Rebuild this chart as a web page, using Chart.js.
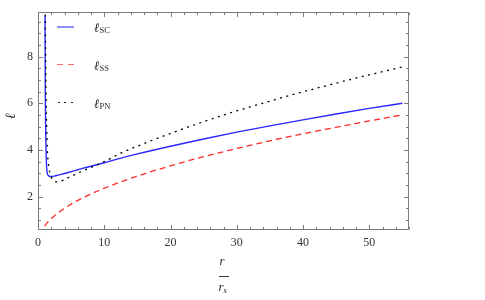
<!DOCTYPE html>
<html>
<head>
<meta charset="utf-8">
<script src="https://cdn.jsdelivr.net/npm/chart.js@4.4.1/dist/chart.umd.min.js"></script>
<style>
  html, body { margin: 0; padding: 0; background: #fff; }
  #wrap { position: relative; width: 485px; height: 300px; overflow: hidden; }
  #c { position: absolute; left: 0; top: 0; }
  .t { position: absolute; font-family: "Liberation Serif", "DejaVu Serif", serif; color: #2a2a2a; white-space: nowrap; }
  .ell { font-style: italic; font-size: 13px; line-height: 13px; }
  .sub { font-size: 8.5px; line-height: 9px; }
  .sample { position: absolute; }
</style>
</head>
<body>
<div id="wrap">
  <canvas id="c" width="485" height="300"></canvas>

  <!-- legend -->
  <div class="sample" style="left:57px; top:26px; width:17px; height:2px; background:#8f8ff8;"></div>
  <span class="t ell" style="left:94px; top:21px;">ℓ</span><span class="t sub" style="left:99.5px; top:26px;">SC</span>

  <div class="sample" style="left:57px; top:63.5px; width:17px; height:1.5px; background:repeating-linear-gradient(90deg, #ff6a6a 0 6px, transparent 6px 11px);"></div>
  <span class="t ell" style="left:94px; top:59px;">ℓ</span><span class="t sub" style="left:99.5px; top:64px;">SS</span>

  <div class="sample" style="left:58px; top:101.5px; width:17px; height:1px; background:repeating-linear-gradient(90deg, #222 0 2px, transparent 2px 6.5px);"></div>
  <span class="t ell" style="left:94px; top:96.5px;">ℓ</span><span class="t sub" style="left:99.5px; top:101.5px;">PN</span>

  <!-- y title -->
  <div class="t" style="left:1px; top:106px; width:20px; height:20px; line-height:20px; text-align:center; font-style:italic; font-size:14px; transform:rotate(-90deg);">ℓ</div>

  <!-- x title: fraction r / r_s -->
  <span class="t" style="left:219.5px; top:254px; font-style:italic; font-size:13px; line-height:13px;">r</span>
  <div style="position:absolute; left:218.5px; top:275.5px; width:10.5px; height:1px; background:#3a3a3a;"></div>
  <span class="t" style="left:218.5px; top:280px; font-style:italic; font-size:13px; line-height:13px;">r</span><span class="t" style="left:223.5px; top:285.5px; font-style:italic; font-size:8.5px; line-height:9px;">s</span>
</div>

<script>
// ---- data ----
const rSC = [1.06, 1.08, 1.10, 1.13, 1.17, 1.22, 1.28, 1.35, 1.45, 1.6, 1.8, 2.0, 2.5, 3, 4, 5, 6, 7, 8, 10, 12.5, 15, 20, 25, 30, 35, 40, 45, 50, 55];
const lSC = [9.75, 8.0, 6.8, 5.6, 4.6, 3.9, 3.4, 3.1, 2.96, 2.89, 2.86, 2.86, 2.88, 2.92, 2.99, 3.07, 3.15, 3.23, 3.30, 3.45, 3.65, 3.83, 4.16, 4.47, 4.76, 5.03, 5.29, 5.54, 5.78, 6.00];

const rSS = [1.0, 1.25, 1.5, 2, 2.5, 3, 4, 5, 7, 10, 12.5, 15, 20, 25, 30, 35, 40, 45, 50, 55];
const lSS = [0.74, 0.83, 0.92, 1.06, 1.18, 1.30, 1.50, 1.68, 1.98, 2.36, 2.63, 2.88, 3.32, 3.71, 4.06, 4.39, 4.69, 4.97, 5.24, 5.50];

const rPN = [1.10, 1.13, 1.17, 1.22, 1.3, 1.4, 1.5, 1.62, 1.75, 2.0, 2.25, 2.5, 3.0, 3.5, 4, 4.5, 5, 6, 7, 8, 10, 12.5, 15, 20, 25, 30, 35, 40, 45, 50, 55];
const lPN = [9.8, 8.6, 7.3, 6.1, 5.0, 4.1, 3.6, 3.3, 3.08, 2.84, 2.72, 2.66, 2.63, 2.67, 2.73, 2.80, 2.87, 3.00, 3.13, 3.25, 3.50, 3.86, 4.16, 4.71, 5.21, 5.67, 6.09, 6.49, 6.86, 7.22, 7.55];

const xTicks = [0, 10, 20, 30, 40, 50];
const yTicks = [2, 4, 6, 8];
const seriesLabels = ["ℓ_SC", "ℓ_SS", "ℓ_PN"];

const toPts = (xs, ys) => xs.map((x, i) => ({ x: x, y: ys[i] }));

const FONT = { family: '"Liberation Serif", "DejaVu Serif", serif', size: 12 };

// frame with inward ticks on all four sides (Mathematica style)
const framePlugin = {
  id: 'frame',
  afterDatasetsDraw(chart) {
    const { ctx, chartArea: a, scales } = chart;
    const xs = scales.x, ys = scales.y;
    const L = Math.round(a.left) + 0.5, R = Math.round(a.right) - 0.5;
    const T = Math.round(a.top) + 0.5, B = Math.round(a.bottom) - 0.5;
    ctx.save();
    ctx.strokeStyle = '#7a7a7a';
    ctx.lineWidth = 1;
    ctx.beginPath();
    ctx.rect(L, T, R - L, B - T);
    ctx.stroke();
    ctx.beginPath();
    for (let v = 0; v <= xs.max + 1e-9; v += 2) {
      const px = Math.round(xs.getPixelForValue(v)) + 0.5;
      const len = (Math.abs(v % 10) < 1e-9) ? 4.5 : 2.5;
      ctx.moveTo(px, B); ctx.lineTo(px, B - len);
      ctx.moveTo(px, T); ctx.lineTo(px, T + len);
    }
    for (let v = Math.ceil(ys.min * 2) / 2; v <= ys.max + 1e-9; v += 0.5) {
      const py = Math.round(ys.getPixelForValue(v)) + 0.5;
      const len = (Math.abs(v % 2) < 1e-9) ? 4.5 : 2.5;
      ctx.moveTo(L, py); ctx.lineTo(L + len, py);
      ctx.moveTo(R, py); ctx.lineTo(R - len, py);
    }
    ctx.stroke();
    ctx.restore();
  }
};

new Chart(document.getElementById('c'), {
  type: 'line',
  data: {
    datasets: [
      { label: seriesLabels[0], data: toPts(rSC, lSC), borderColor: '#2828ff', borderWidth: 1.4,
        pointRadius: 0, fill: false, cubicInterpolationMode: 'monotone', order: 1 },
      { label: seriesLabels[1], data: toPts(rSS, lSS), borderColor: '#ff2b2b', borderWidth: 1.3,
        borderDash: [6, 4], pointRadius: 0, fill: false, cubicInterpolationMode: 'monotone', order: 2 },
      { label: seriesLabels[2], data: toPts(rPN, lPN), borderColor: '#000000', borderWidth: 1.3,
        borderDash: [2, 4.5], pointRadius: 0, fill: false, cubicInterpolationMode: 'monotone', order: 0 }
    ]
  },
  options: {
    responsive: false,
    animation: false,
    devicePixelRatio: 1,
    layout: { padding: { left: 0, right: 76, top: 1, bottom: 0 } },
    plugins: { legend: { display: false }, tooltip: { enabled: false }, title: { display: false } },
    scales: {
      x: {
        type: 'linear', min: 0, max: 56,
        grid: { display: false, drawTicks: false },
        border: { display: false },
        ticks: { font: FONT, color: '#333', padding: 6, maxRotation: 0, autoSkip: false },
        afterBuildTicks: (s) => { s.ticks = xTicks.map(v => ({ value: v })); },
        afterFit: (s) => { s.height = 70; }
      },
      y: {
        type: 'linear', min: 0.57, max: 9.9,
        grid: { display: false, drawTicks: false },
        border: { display: false },
        ticks: { font: FONT, color: '#333', padding: 5, autoSkip: false },
        afterBuildTicks: (s) => { s.ticks = yTicks.map(v => ({ value: v })); },
        afterFit: (s) => { s.width = 38; }
      }
    }
  },
  plugins: [framePlugin]
});
</script>
</body>
</html>
